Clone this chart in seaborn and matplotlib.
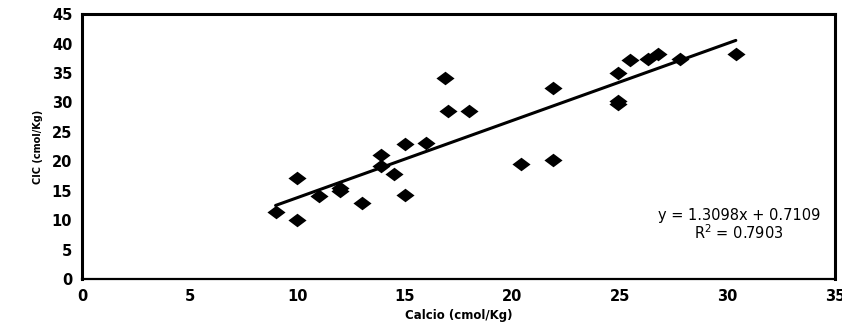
import matplotlib
matplotlib.use("Agg")
import matplotlib.pyplot as plt
import numpy as np
import pandas as pd
import seaborn as sns

# Data
calcio = [9.0, 10.0, 10.0, 11.0, 12.0, 12.0, 13.0, 13.9, 13.9, 14.5,
          15.0, 15.0, 16.0, 16.9, 17.0, 18.0, 20.4, 21.9, 21.9, 24.9,
          24.9, 24.9, 25.5, 26.3, 26.8, 27.8, 30.4]
cic = [11.4, 17.2, 10.0, 14.1, 15.4, 15.0, 13.0, 21.1, 19.2, 17.8,
       23.0, 14.2, 23.1, 34.2, 28.5, 28.5, 19.5, 20.3, 32.4, 35.0,
       30.2, 29.8, 37.2, 37.4, 38.2, 37.4, 38.2]
slope = 1.3098
intercept = 0.7109
r2 = 0.7903

df = pd.DataFrame({"Calcio": calcio, "CIC": cic})

sns.set_style("white")
plt.rcParams["font.family"] = ["DejaVu Sans"]
plt.rcParams["text.color"] = "black"
plt.rcParams["axes.labelcolor"] = "black"
plt.rcParams["xtick.color"] = "black"
plt.rcParams["ytick.color"] = "black"

fig = plt.figure(figsize=(8.42, 3.35), dpi=100)
ax = fig.add_axes([0.0974, 0.167, 0.894, 0.791])

diamond = [(-1, 0), (0, 0.75), (1, 0), (0, -0.75), (-1, 0)]
sns.scatterplot(data=df, x="Calcio", y="CIC", marker=diamond, s=170,
                color="black", edgecolor="black", linewidth=0, ax=ax)

xl = np.array([min(calcio), max(calcio)])
sns.lineplot(x=xl, y=slope * xl + intercept, color="black", linewidth=2.2, ax=ax)

ax.set_xlim(0, 35)
ax.set_ylim(0, 45)
ax.set_xticks(range(0, 36, 5))
ax.set_yticks(range(0, 46, 5))
ax.tick_params(axis="both", direction="out", length=3, width=1, labelsize=10.5, pad=4)
for lab in ax.get_xticklabels() + ax.get_yticklabels():
    lab.set_fontweight("bold")

for side in ["left", "top", "right"]:
    ax.spines[side].set_linewidth(2.2)
    ax.spines[side].set_color("black")
ax.spines["bottom"].set_linewidth(1.6)
ax.spines["bottom"].set_color("black")

ax.set_xlabel("Calcio (cmol/Kg)", fontsize=8.5, fontweight="bold", labelpad=4)
ax.set_ylabel("CIC (cmol/Kg)", fontsize=7, fontweight="bold", labelpad=6)

ax.text(30.55, 10.8, f"y = {slope:.4f}x + {intercept:.4f}", ha="center", va="center",
        fontsize=10.5)
ax.text(30.55, 7.8, f"R$^2$ = {r2:.4f}", ha="center", va="center", fontsize=10.5)

fig.savefig("out.png", dpi=100)
